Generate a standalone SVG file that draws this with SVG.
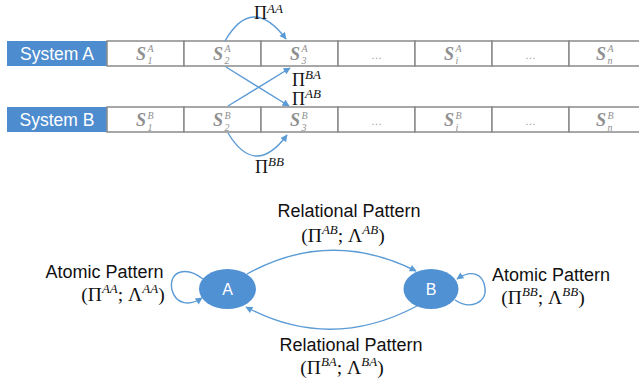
<svg xmlns="http://www.w3.org/2000/svg" width="639" height="387" viewBox="0 0 639 387">
<style>
.sys{fill:#4d8ccf}
.syst{fill:#ffffff;font-family:"Liberation Sans",Arial,sans-serif;font-size:17.5px}
.cell{fill:#ffffff;stroke:#8a8a8a;stroke-width:1.5}
.s{fill:#8f8f8f;font-family:"Liberation Serif","Times New Roman",serif;font-style:italic;font-weight:bold;font-size:18px}
.si{fill:#8f8f8f;font-family:"Liberation Serif","Times New Roman",serif;font-style:italic;font-size:10px}
.dots{fill:#9a9a9a;font-family:"Liberation Sans",Arial,sans-serif;font-size:11px}
.arr{fill:none;stroke:#5b9bd5;stroke-width:1.4;marker-end:url(#ah)}
.pi{fill:#111;font-family:"Liberation Serif","Times New Roman",serif;font-size:18px}
.sup{font-style:italic;font-size:13px}
.lbl{fill:#111;font-family:"Liberation Sans",Arial,sans-serif;font-size:18px}
.math{fill:#111;font-family:"Liberation Serif","Times New Roman",serif;font-size:19.5px}
.node{fill:#5091d4}
.nt{fill:#ffffff;font-family:"Liberation Sans",Arial,sans-serif;font-size:16px}
</style>
<defs>
<marker id="ah" viewBox="0 0 10 10" refX="9" refY="5" markerWidth="8" markerHeight="7" markerUnits="userSpaceOnUse" orient="auto">
<path d="M0,0 L10,5 L0,10 z" fill="#5b9bd5"/>
</marker>
</defs>
<rect width="639" height="387" fill="#ffffff"/>

<g id="systemA">
<rect class="sys" x="7" y="41" width="100" height="25"/>
<text class="syst" x="57" y="60" text-anchor="middle">System A</text>
<rect class="cell" x="107" y="41" width="77" height="25"/>
<rect class="cell" x="184" y="41" width="77" height="25"/>
<rect class="cell" x="261" y="41" width="77" height="25"/>
<rect class="cell" x="338" y="41" width="77" height="25"/>
<rect class="cell" x="415" y="41" width="77" height="25"/>
<rect class="cell" x="492" y="41" width="77" height="25"/>
<rect class="cell" x="569" y="41" width="80" height="25"/>
<text class="s" x="136" y="60">S</text><text class="si" x="147.5" y="52">A</text><text class="si" x="147.5" y="64">1</text>
<text class="s" x="213" y="60">S</text><text class="si" x="224.5" y="52">A</text><text class="si" x="224.5" y="64">2</text>
<text class="s" x="290" y="60">S</text><text class="si" x="301.5" y="52">A</text><text class="si" x="301.5" y="64">3</text>
<text class="dots" x="376.5" y="59" text-anchor="middle">…</text>
<text class="s" x="444" y="60">S</text><text class="si" x="455.5" y="52">A</text><text class="si" x="455.5" y="64">i</text>
<text class="dots" x="530.5" y="59" text-anchor="middle">…</text>
<text class="s" x="596" y="60">S</text><text class="si" x="607.5" y="52">A</text><text class="si" x="607.5" y="64">n</text>
</g>

<g id="systemB">
<rect class="sys" x="7" y="107" width="100" height="25"/>
<text class="syst" x="57" y="126" text-anchor="middle">System B</text>
<rect class="cell" x="107" y="107" width="77" height="25"/>
<rect class="cell" x="184" y="107" width="77" height="25"/>
<rect class="cell" x="261" y="107" width="77" height="25"/>
<rect class="cell" x="338" y="107" width="77" height="25"/>
<rect class="cell" x="415" y="107" width="77" height="25"/>
<rect class="cell" x="492" y="107" width="77" height="25"/>
<rect class="cell" x="569" y="107" width="80" height="25"/>
<text class="s" x="136" y="126">S</text><text class="si" x="147.5" y="119">B</text><text class="si" x="147.5" y="130.5">1</text>
<text class="s" x="213" y="126">S</text><text class="si" x="224.5" y="119">B</text><text class="si" x="224.5" y="130.5">2</text>
<text class="s" x="290" y="126">S</text><text class="si" x="301.5" y="119">B</text><text class="si" x="301.5" y="130.5">3</text>
<text class="dots" x="376.5" y="125" text-anchor="middle">…</text>
<text class="s" x="444" y="126">S</text><text class="si" x="455.5" y="119">B</text><text class="si" x="455.5" y="130.5">i</text>
<text class="dots" x="530.5" y="125" text-anchor="middle">…</text>
<text class="s" x="596" y="126">S</text><text class="si" x="607.5" y="119">B</text><text class="si" x="607.5" y="130.5">n</text>
</g>

<g id="nodeA">
<ellipse class="node" cx="227.5" cy="289" rx="28.5" ry="20"/>
<text class="nt" x="227.5" y="295" text-anchor="middle">A</text>
</g>
<g id="nodeB">
<ellipse class="node" cx="431" cy="289" rx="27.5" ry="20"/>
<text class="nt" x="431" y="295" text-anchor="middle">B</text>
</g>

<g id="connectors">
<path class="arr" d="M225,41 Q252,-6 286,39"/>
<path class="arr" d="M226,67 L289,106"/>
<path class="arr" d="M228,106 L290,68"/>
<path class="arr" d="M228,133 Q255,178 287,135"/>
<path class="arr" d="M247,274 Q330,228 416,271"/>
<path class="arr" d="M417,306 Q330,352 246,307"/>
<path class="arr" d="M203,279 C185,265 168,272 172,290 C176,305 190,306 202,298"/>
<path class="arr" d="M455,300 C470,310 487,303 485,288 C483,272 470,270 457,279"/>
</g>

<g id="labels">
<text class="pi" x="254" y="19">Π<tspan class="sup" dy="-6">AA</tspan></text>
<text class="pi" x="292" y="86">Π<tspan class="sup" dy="-7">BA</tspan></text>
<text class="pi" x="292" y="105">Π<tspan class="sup" dy="-7">AB</tspan></text>
<text class="pi" x="255" y="173">Π<tspan class="sup" dy="-7">BB</tspan></text>

<text class="lbl" x="349" y="217" text-anchor="middle">Relational Pattern</text>
<text class="math" x="343" y="242" text-anchor="middle">(Π<tspan class="sup" dy="-8">AB</tspan><tspan dy="8">; Λ</tspan><tspan class="sup" dy="-8">AB</tspan><tspan dy="8">)</tspan></text>
<text class="lbl" x="351" y="351" text-anchor="middle">Relational Pattern</text>
<text class="math" x="342" y="374" text-anchor="middle">(Π<tspan class="sup" dy="-8">BA</tspan><tspan dy="8">; Λ</tspan><tspan class="sup" dy="-8">BA</tspan><tspan dy="8">)</tspan></text>
<text class="lbl" x="104.5" y="278" text-anchor="middle">Atomic Pattern</text>
<text class="math" x="123" y="301" text-anchor="middle">(Π<tspan class="sup" dy="-8">AA</tspan><tspan dy="8">; Λ</tspan><tspan class="sup" dy="-8">AA</tspan><tspan dy="8">)</tspan></text>
<text class="lbl" x="551" y="281" text-anchor="middle">Atomic Pattern</text>
<text class="math" x="543" y="304" text-anchor="middle">(Π<tspan class="sup" dy="-8">BB</tspan><tspan dy="8">; Λ</tspan><tspan class="sup" dy="-8">BB</tspan><tspan dy="8">)</tspan></text>
</g>
</svg>
